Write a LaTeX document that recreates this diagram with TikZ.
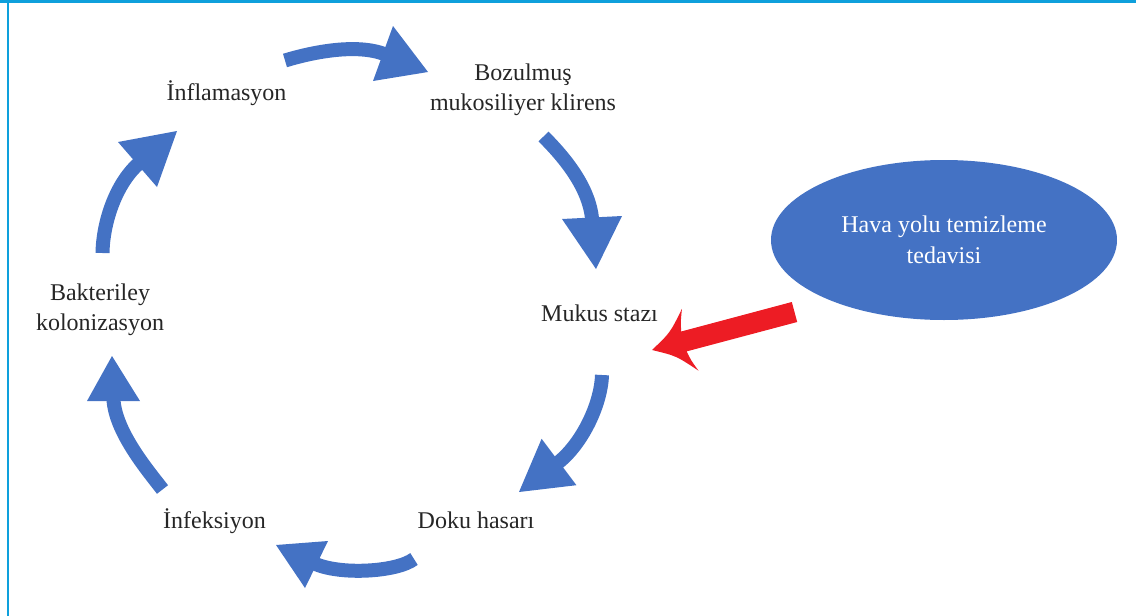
\documentclass[tikz,border=0pt]{standalone}
\usepackage{fontspec}
\setmainfont{Liberation Serif}
\usetikzlibrary{shapes.geometric}
\definecolor{bluec}{HTML}{4472C4}
\definecolor{redc}{HTML}{ED1C24}
\definecolor{txtc}{HTML}{262626}
\definecolor{framec}{HTML}{0EA0DC}
\begin{document}
\begin{tikzpicture}[x=1pt,y=-1pt,
  lbl/.style={font=\fontsize{24}{30}\selectfont, text=txtc, align=center, inner sep=0pt},
  shaft/.style={draw=bluec, line width=14pt, line cap=butt},
  head/.style={fill=bluec, draw=none},
  redarrow/.style={fill=redc, draw=none}]
\useasboundingbox (0,0) rectangle (1136,616);
% frame
\fill[framec] (0,0) rectangle (1136,3);
\draw[framec, line width=1.8pt] (8.3,0) -- (8.3,616);

% labels
\node[lbl, anchor=base] (infl) at (226.5,100) {İnflamasyon};
\node[lbl] (bozul) at (523,90) {Bozulmuş\\mukosiliyer klirens};
\node[lbl, anchor=base] (mukus) at (599.5,321) {Mukus stazı};
\node[lbl, anchor=base] (doku) at (476,528) {Doku hasarı};
\node[lbl, anchor=base] (infek) at (214.5,528) {İnfeksiyon};
\node[lbl] (bakt) at (100,310) {Bakteriley\\kolonizasyon};
\node[ellipse, fill=bluec, minimum width=346pt, minimum height=160pt, inner sep=0pt,
      text=white, align=center, font=\fontsize{24}{31}\selectfont] (hava) at (944,240)
      {Hava yolu temizleme\\tedavisi};

% arrow 1: Inflamasyon -> Bozulmus
\coordinate (a1t) at (285,60.5);
\coordinate (a1c1) at (311.8,52.3);
\coordinate (a1c2) at (357.1,42.9);
\coordinate (a1e) at (385.8,54.6);
\coordinate (a1p) at (393,26);
\coordinate (a1q) at (373,81);
\coordinate (a1tip) at (428,72);
\draw[shaft] (a1t) .. controls (a1c1) and (a1c2) .. (a1e);
\fill[head] (a1p) -- (a1tip) -- (a1q) -- cycle;

% arrow 2: Bozulmus -> Mukus
\coordinate (a2t) at (543.5,136.5);
\coordinate (a2c1) at (564.5,157.5);
\coordinate (a2c2) at (589.7,187.6);
\coordinate (a2e) at (592.2,220.5);
\coordinate (a2p) at (562,219);
\coordinate (a2q) at (622,216);
\coordinate (a2tip) at (596,269);
\draw[shaft] (a2t) .. controls (a2c1) and (a2c2) .. (a2e);
\fill[head] (a2p) -- (a2tip) -- (a2q) -- cycle;

% arrow 3: Mukus -> Doku
\coordinate (a3t) at (602,375);
\coordinate (a3c1) at (601,405);
\coordinate (a3c2) at (581.4,445.2);
\coordinate (a3e) at (556.6,463.8);
\coordinate (a3p) at (541.6,438.8);
\coordinate (a3q) at (576.4,485.2);
\coordinate (a3tip) at (519,492);
\draw[shaft] (a3t) .. controls (a3c1) and (a3c2) .. (a3e);
\fill[head] (a3p) -- (a3tip) -- (a3q) -- cycle;

% arrow 4: Doku -> Infeksiyon
\coordinate (a4t) at (414,559);
\coordinate (a4c1) at (396.4,572.2);
\coordinate (a4c2) at (339,575.3);
\coordinate (a4e) at (313.8,563.2);
\coordinate (a4p) at (328,541);
\coordinate (a4q) at (305,588);
\coordinate (a4tip) at (276,545);
\draw[shaft] (a4t) .. controls (a4c1) and (a4c2) .. (a4e);
\fill[head] (a4p) -- (a4tip) -- (a4q) -- cycle;

% arrow 5: Infeksiyon -> Bakteriley
\coordinate (a5t) at (162.5,489.5);
\coordinate (a5c1) at (147.2,469.7);
\coordinate (a5c2) at (114.5,431);
\coordinate (a5e) at (113.4,398);
\coordinate (a5p) at (87,401);
\coordinate (a5q) at (140,401);
\coordinate (a5tip) at (112,356);
\draw[shaft] (a5t) .. controls (a5c1) and (a5c2) .. (a5e);
\fill[head] (a5p) -- (a5tip) -- (a5q) -- cycle;

% arrow 6: Bakteriley -> Inflamasyon
\coordinate (a6t) at (102.5,253);
\coordinate (a6c1) at (103,222);
\coordinate (a6c2) at (116.1,182.6);
\coordinate (a6e) at (139.8,162.6);
\coordinate (a6p) at (118,142);
\coordinate (a6q) at (157,187);
\coordinate (a6tip) at (177,131);
\draw[shaft] (a6t) .. controls (a6c1) and (a6c2) .. (a6e);
\fill[head] (a6p) -- (a6tip) -- (a6q) -- cycle;

% red arrow: Hava yolu -> Mukus
\coordinate (r1) at (791.8,302);
\coordinate (r2) at (797.2,322);
\coordinate (rj1) at (681.2,331.5);
\coordinate (rj2) at (686.6,351.4);
\coordinate (rk1) at (680.65,321.65);
\coordinate (rk2) at (690.97,360.29);
\coordinate (rb1) at (681.9,308.9);
\coordinate (rb2) at (698.5,370.7);
\coordinate (rc1) at (670.2,332.7);
\coordinate (rc2) at (676.3,355.9);
\coordinate (rtip) at (652,350);
\fill[redarrow] (r1) -- (rj1) .. controls (rk1) .. (rb1) .. controls (rc1) .. (rtip)
  .. controls (rc2) .. (rb2) .. controls (rk2) .. (rj2) -- (r2) -- cycle;
\end{tikzpicture}
\end{document}
